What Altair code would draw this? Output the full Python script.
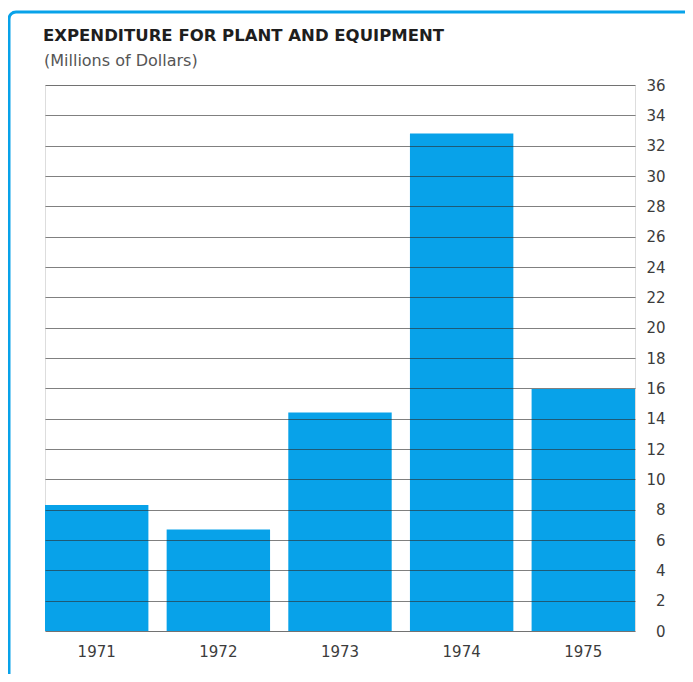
import altair as alt
import pandas as pd

years = ["1971", "1972", "1973", "1974", "1975"]
spending = [8.3, 6.7, 14.4, 32.8, 15.95]
y_ticks = list(range(0, 37, 2))
title_text = "EXPENDITURE FOR PLANT AND EQUIPMENT"
subtitle_text = "(Millions of Dollars)"

df = pd.DataFrame({"year": years, "value": spending})
one = pd.DataFrame({"k": [0]})

BLUE = "#08a2e9"
FONT = "DejaVu Sans"

bars = alt.Chart(df).mark_bar(color=BLUE).encode(
    x=alt.X(
        "year:N",
        sort=years,
        scale=alt.Scale(paddingInner=0.15, paddingOuter=0),
        axis=alt.Axis(
            title=None, labelAngle=0, domain=False, ticks=False, labelPadding=13,
            labelFontSize=15, labelColor="#3c3c3c", labelFont=FONT,
        ),
    ),
    y=alt.Y(
        "value:Q",
        scale=alt.Scale(domain=[0, 36], nice=False),
        axis=alt.Axis(
            orient="right", title=None, values=y_ticks, domain=False, ticks=False,
            tickSize=0, labelPadding=30, labelAlign="right", labelFontSize=15,
            labelColor="#3c3c3c", labelFont=FONT, grid=True, gridColor="#2b2b2b",
            gridOpacity=0.6, gridWidth=1, zindex=1,
        ),
    ),
)

frame = alt.Chart(one).mark_rect(
    fill="transparent", stroke=BLUE, strokeWidth=3, cornerRadius=7
).encode(
    x=alt.value(-36), x2=alt.value(800), y=alt.value(-73), y2=alt.value(800)
)

title = alt.Chart(one).mark_text(
    text=title_text, align="left", baseline="alphabetic",
    font=FONT, fontSize=16.5, fontWeight="bold", color="#1e1e1e",
).encode(x=alt.value(-2), y=alt.value(-44))

subtitle = alt.Chart(one).mark_text(
    text=subtitle_text, align="left", baseline="alphabetic",
    font=FONT, fontSize=16, fontWeight="normal", color="#555555",
).encode(x=alt.value(-1), y=alt.value(-19))

chart = alt.layer(bars, frame, title, subtitle).properties(
    width=590,
    height=546,
    autosize=alt.AutoSizeParams(type="none"),
    padding={"left": 37, "top": 77, "right": 50, "bottom": 43},
).configure_view(stroke=None, strokeWidth=0).configure_axis(domain=False).configure(
    background="white"
)

chart.save("out.html", embed_options={"renderer": "svg", "actions": False})
